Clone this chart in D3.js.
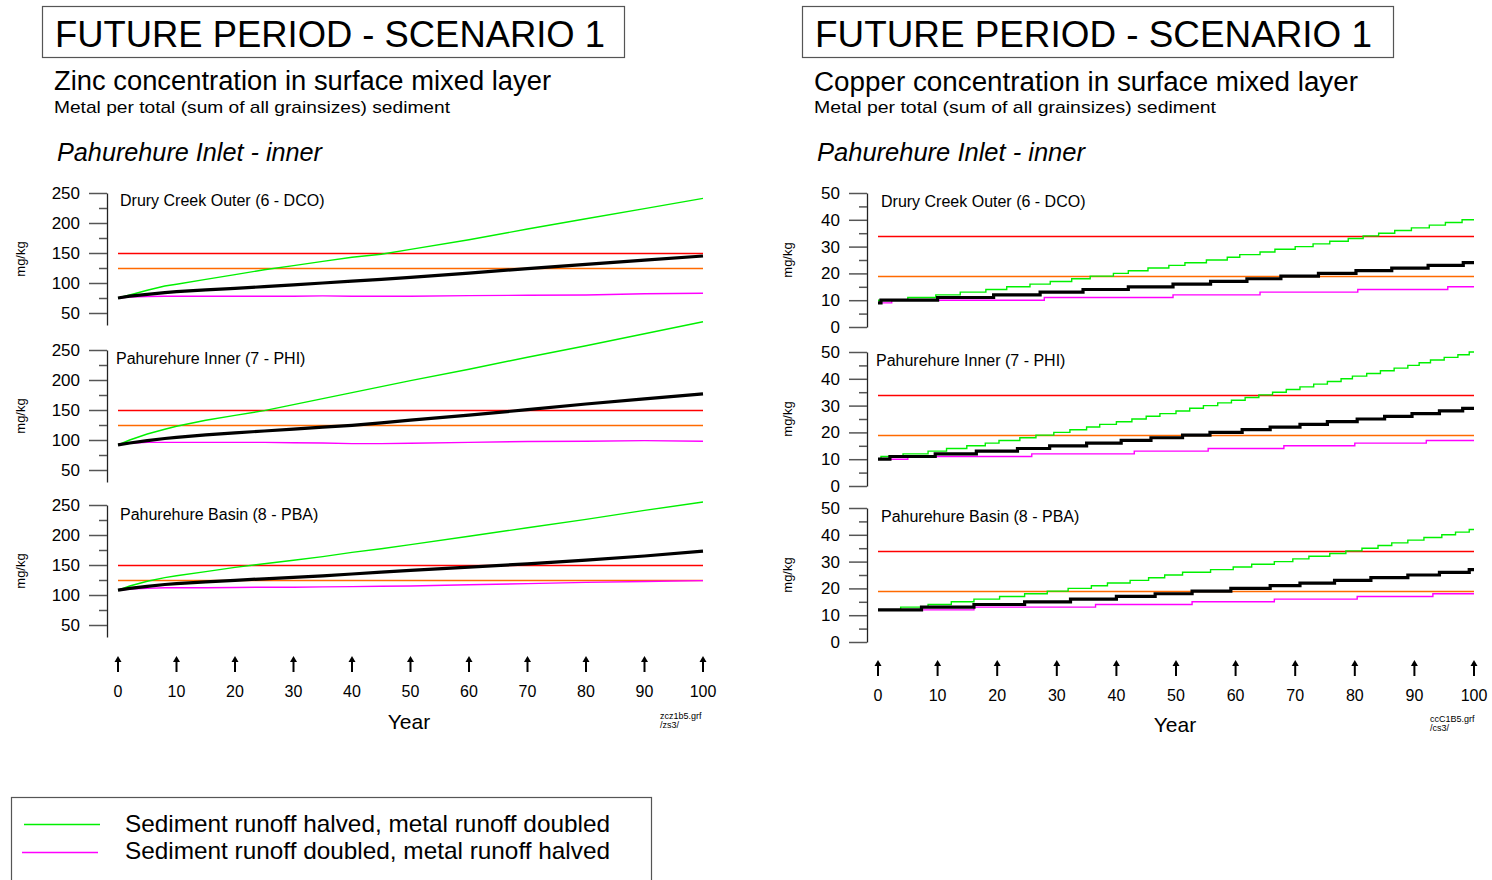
<!DOCTYPE html>
<html><head><meta charset="utf-8">
<script src="https://cdn.jsdelivr.net/npm/d3@7"></script>
<style>body{margin:0;background:#fff}svg{display:block;font-family:"Liberation Sans",Arial,sans-serif}</style>
</head><body><svg id="c" width="1492" height="880"></svg>
<script>
// ---------------- DATA ----------------
const yearTicks = [0,10,20,30,40,50,60,70,80,90,100];
const siteNames = ["Drury Creek Outer (6 - DCO)","Pahurehure Inner (7 - PHI)","Pahurehure Basin (8 - PBA)"];
const legendLabels = ["Sediment runoff halved, metal runoff doubled","Sediment runoff doubled, metal runoff halved"];
const titleText = "FUTURE PERIOD - SCENARIO 1";
const zincTitle = "Zinc concentration in surface mixed layer";
const copperTitle = "Copper concentration in surface mixed layer";
const subTitle = "Metal per total (sum of all grainsizes) sediment";
const areaTitle = "Pahurehure Inlet - inner";
const zincFile = ["zcz1b5.grf","/zs3/"];
const copperFile = ["ccC1B5.grf","/cs3/"];

const zincTicks = [50,100,150,200,250];
const zincMinor = [75,125,175,225];
const copperTicks = [0,10,20,30,40,50];
const copperMinor = [5,15,25,35,45];
const zincThresholds = [150,125];   // red, orange
const copperThresholds = [34,19];   // red, orange

// Zinc (smooth series) sampled at these years
const znYears = [0,2,5,8,10,15,20,25,30,35,40,45,50,60,70,80,90,100];
const znDcoGreen   = [75,80,88,95,98,106,114,122,129,136,143,148,156,172,190,207,224,241];
const znDcoBase    = [75,78,81,84,85.5,88.5,91,94,97,100,103,106,109.5,116.5,124,131,138,145];
const znDcoMagenta = [75,76.5,77.5,78,78,78,78,78,78,78.5,78,78,78,79,79.5,80,82,83];
const znPhiGreen   = [92,100,110,118,123,133,141,149,159,169,179,189,199,218,238,257,277,297];
const znPhiBase    = [92,95,99,102.5,104.5,108.5,112,115,118,121.5,124.5,128.5,133,141.5,150.5,160,168.5,177];
const znPhiMagenta = [92,94.5,96,96,96,96,96,96,95.5,95,94,94,94.5,96,97.5,98,99,98];
const znPbaGreen   = [108,115,123,129,132,139,146,152,158,164,171,177,184,198,212,226,241,255];
const znPbaBase    = [108,111,114.5,117.5,119,122,124.5,127,129.5,132,135,138,141,146.5,152,158,165,173];
const znPbaMagenta = [108,110,111,112,112,112,112.5,113,113,113.5,114,114.5,115,117,119,121,122.5,124];

// Copper (stepped series): [year at which value starts, value]
const cuDcoGreen = [[0,10],[5,11],[9.7,12],[13.8,13],[18.1,14],[21.6,15],[25.5,16],[28.9,17],[32.5,18],[35.6,19],[39.5,20],[42,21],[45.3,22],[48.8,23],[51.5,24],[55.1,25],[58.6,26],[60.7,27],[64.1,28],[66.6,29],[70,30],[73,31],[75.8,32],[78.9,33],[81.4,34],[84,35],[86.7,36],[89.5,37],[92.5,38],[95.2,39],[98,40],[100,40]];
const cuDcoBase = [[0,9],[0.5,10],[10,11],[19.4,12],[27.2,13],[34.4,14],[42,15],[49.5,16],[55.8,17],[61.9,18],[67.6,19],[73.9,20],[80.2,21],[86.2,22],[92.3,23],[98.2,24],[100,24]];
const cuDcoMagenta = [[0,9],[2.3,10],[27.9,11],[49.5,12],[64.1,13],[80.5,14],[95.6,15],[100,15]];
const cuPhiGreen = [[0,10],[0.5,11],[4.2,12],[8.4,13],[11.5,14],[14.9,15],[18,16],[20.3,17],[23.8,18],[26.5,19],[29.5,20],[32.2,21],[35,22],[37.2,23],[40,24],[42.6,25],[45,26],[47.3,27],[50,28],[52.3,29],[54.6,30],[57,31],[59.3,32],[61.6,33],[63.9,34],[66.2,35],[68.5,36],[70.8,37],[73.1,38],[75.4,39],[77.7,40],[79.6,41],[82,42],[84.3,43],[86.6,44],[88.9,45],[90.8,46],[92.7,47],[95,48],[97.3,49],[99.2,50],[100,50]];
const cuPhiBase = [[0,10],[2,11],[9.6,12],[16.5,13],[23.4,14],[28.8,15],[35,16],[40.8,17],[45.8,18],[51.1,19],[55.7,20],[61.1,21],[65.8,22],[70.8,23],[75.4,24],[80.4,25],[85,26],[89.6,27],[94.2,28],[98.1,29],[100,29]];
const cuPhiMagenta = [[0,10],[5,11],[25.8,12],[43,13],[55.4,14],[68.1,15],[80,16],[92,17],[100,17]];
const cuPbaGreen = [[0,12],[3.8,13],[8.4,14],[12.3,15],[16.1,16],[20.4,17],[24.6,18],[28.4,19],[31.9,20],[35.8,21],[38.5,22],[42.3,23],[45.4,24],[48.1,25],[51.1,26],[55.8,27],[59.6,28],[62.7,29],[66.5,30],[69.6,31],[72.3,32],[75.8,33],[78.5,34],[81.2,35],[83.9,36],[86.2,37],[88.9,38],[91.6,39],[94.6,40],[96.9,41],[99.2,42],[100,42]];
const cuPbaBase = [[0,12],[7.3,13],[16.1,14],[24.6,15],[32.3,16],[40,17],[46.5,18],[52.7,19],[59.2,20],[65.8,21],[70.8,22],[76.6,23],[82.7,24],[88.9,25],[94.2,26],[99.2,27],[100,27]];
const cuPbaMagenta = [[0,12],[16.1,13],[36.5,14],[52.7,15],[66.5,16],[80.4,17],[93.1,18],[100,18]];

// ---------------- LAYOUT ----------------
const svg = d3.select("#c");
const COL = {green:"#00f000", magenta:"#ff00ff", black:"#000", red:"#ff0000", orange:"#ff6a00"};

const charts = [
  { box:[42,6,582,51], titleX:55, titleLen:550, head:zincTitle, headLen:497, subLen:396, areaLen:265,
    textX:54, areaX:57, headY:90, subY:113, areaY:161,
    axisX:107, x0:118, x1:703, tops:[193,350,505], dom:[30,250], h:132,
    ticks:zincTicks, minor:zincMinor, thr:zincThresholds, labelPos:[[120,206],[116,364],[120,520]],
    mgX:22, arrowTop:656, arrowBot:672, numY:697, yearX:409, yearY:729, file:zincFile, fileX:660, fileY:719,
    smooth:true,
    series:[[znDcoGreen,znDcoBase,znDcoMagenta],[znPhiGreen,znPhiBase,znPhiMagenta],[znPbaGreen,znPbaBase,znPbaMagenta]] },
  { box:[802,6,591,51], titleX:815, titleLen:557, head:copperTitle, headLen:544, subLen:402, areaLen:268,
    textX:814, areaX:817, headY:91, subY:113, areaY:161,
    axisX:867, x0:878, x1:1474, tops:[193,352,508], dom:[0,50], h:134,
    ticks:copperTicks, minor:copperMinor, thr:copperThresholds, labelPos:[[881,207],[876,366],[881,522]],
    mgX:789, arrowTop:660, arrowBot:676, numY:701, yearX:1175, yearY:732, file:copperFile, fileX:1430, fileY:722,
    smooth:false,
    series:[[cuDcoGreen,cuDcoBase,cuDcoMagenta],[cuPhiGreen,cuPhiBase,cuPhiMagenta],[cuPbaGreen,cuPbaBase,cuPbaMagenta]] }
];

charts.forEach(c => {
  const g = svg.append("g");
  g.append("rect").attr("x",c.box[0]+0.5).attr("y",c.box[1]+0.5).attr("width",c.box[2]).attr("height",c.box[3])
    .attr("fill","none").attr("stroke","#555").attr("stroke-width",1.2);
  g.append("text").attr("x",c.titleX).attr("y",47).attr("font-size",36).attr("textLength",c.titleLen)
    .attr("lengthAdjust","spacingAndGlyphs").text(titleText);
  g.append("text").attr("x",c.textX).attr("y",c.headY).attr("font-size",27).attr("textLength",c.headLen)
    .attr("lengthAdjust","spacingAndGlyphs").text(c.head);
  g.append("text").attr("x",c.textX).attr("y",c.subY).attr("font-size",17).attr("textLength",c.subLen)
    .attr("lengthAdjust","spacingAndGlyphs").text(subTitle);
  g.append("text").attr("x",c.areaX).attr("y",c.areaY).attr("font-size",25).attr("font-style","italic")
    .attr("textLength",c.areaLen).attr("lengthAdjust","spacingAndGlyphs").text(areaTitle);

  const x = d3.scaleLinear().domain([0,100]).range([c.x0,c.x1]);

  c.tops.forEach((top,i) => {
    const y = d3.scaleLinear().domain(c.dom).range([top + c.h, top]);
    const pg = g.append("g");
    const ax = pg.append("g").attr("transform",`translate(${c.axisX},0)`)
      .call(d3.axisLeft(y).tickValues(c.ticks).tickSize(18).tickSizeOuter(0).tickPadding(9).tickFormat(d3.format("d")));
    ax.select(".domain").attr("stroke","#222").attr("stroke-width",1.3);
    ax.selectAll(".tick line").attr("stroke","#555").attr("stroke-width",1.5);
    ax.selectAll(".tick text").attr("font-size",17).attr("fill","#000").attr("font-family",'"Liberation Sans",Arial,sans-serif');
    const mx = pg.append("g").attr("transform",`translate(${c.axisX},0)`)
      .call(d3.axisLeft(y).tickValues(c.minor).tickSize(8).tickSizeOuter(0).tickFormat(""));
    mx.select(".domain").remove();
    mx.selectAll(".tick line").attr("stroke","#555").attr("stroke-width",1.5);

    pg.append("text").attr("transform",`translate(${c.mgX},${top + c.h/2}) rotate(-90)`)
      .attr("text-anchor","middle").attr("dominant-baseline","middle").attr("font-size",13).text("mg/kg");
    pg.append("text").attr("x",c.labelPos[i][0]).attr("y",c.labelPos[i][1]).attr("font-size",16).text(siteNames[i]);

    [COL.red, COL.orange].forEach((col,k) => {
      const yy = Math.round(y(c.thr[k])) + 0.5;
      pg.append("line").attr("x1",x(0)).attr("x2",x(100)).attr("y1",yy).attr("y2",yy)
        .attr("stroke",col).attr("stroke-width",1.4);
    });

    const [sg, sb, sm] = c.series[i];
    const draw = (data, col, w) => {
      let pts, line;
      if (c.smooth) {
        pts = znYears.map((yr,j)=>[yr,data[j]]);
        line = d3.line().x(d=>x(d[0])).y(d=>y(d[1]));
      } else {
        pts = data;
        line = d3.line().x(d=>x(d[0])).y(d=>y(d[1])).curve(d3.curveStepAfter);
      }
      pg.append("path").attr("d",line(pts)).attr("fill","none").attr("stroke",col).attr("stroke-width",w)
        .attr("stroke-linejoin","miter");
    };
    draw(sm, COL.magenta, 1.4);
    draw(sg, COL.green, 1.4);
    draw(sb, COL.black, 3.2);
  });

  const bx = g.append("g");
  yearTicks.forEach(t => {
    const xx = x(t);
    bx.append("line").attr("x1",xx).attr("x2",xx).attr("y1",c.arrowTop+4).attr("y2",c.arrowBot)
      .attr("stroke","#000").attr("stroke-width",2);
    bx.append("path").attr("d",`M${xx},${c.arrowTop} L${xx-3.5},${c.arrowTop+6} L${xx+3.5},${c.arrowTop+6} Z`).attr("fill","#000");
    bx.append("text").attr("x",xx).attr("y",c.numY).attr("text-anchor","middle").attr("font-size",16).text(t);
  });
  g.append("text").attr("x",c.yearX).attr("y",c.yearY).attr("text-anchor","middle").attr("font-size",21).text("Year");
  g.append("text").attr("x",c.fileX).attr("y",c.fileY).attr("font-size",9).text(c.file[0]);
  g.append("text").attr("x",c.fileX).attr("y",c.fileY+9).attr("font-size",9).text(c.file[1]);
});

const lg = svg.append("g");
lg.append("rect").attr("x",11.5).attr("y",797.5).attr("width",640).attr("height",120).attr("fill","none").attr("stroke","#555").attr("stroke-width",1.2);
[[COL.green,24,824,832],[COL.magenta,22,852,859]].forEach((d,i)=>{
  lg.append("line").attr("x1",d[1]).attr("x2",d[1]+76).attr("y1",d[2]+0.5).attr("y2",d[2]+0.5).attr("stroke",d[0]).attr("stroke-width",1.3);
  lg.append("text").attr("x",125).attr("y",d[3]).attr("font-size",24).attr("textLength",485)
    .attr("lengthAdjust","spacingAndGlyphs").text(legendLabels[i]);
});
</script></body></html>
